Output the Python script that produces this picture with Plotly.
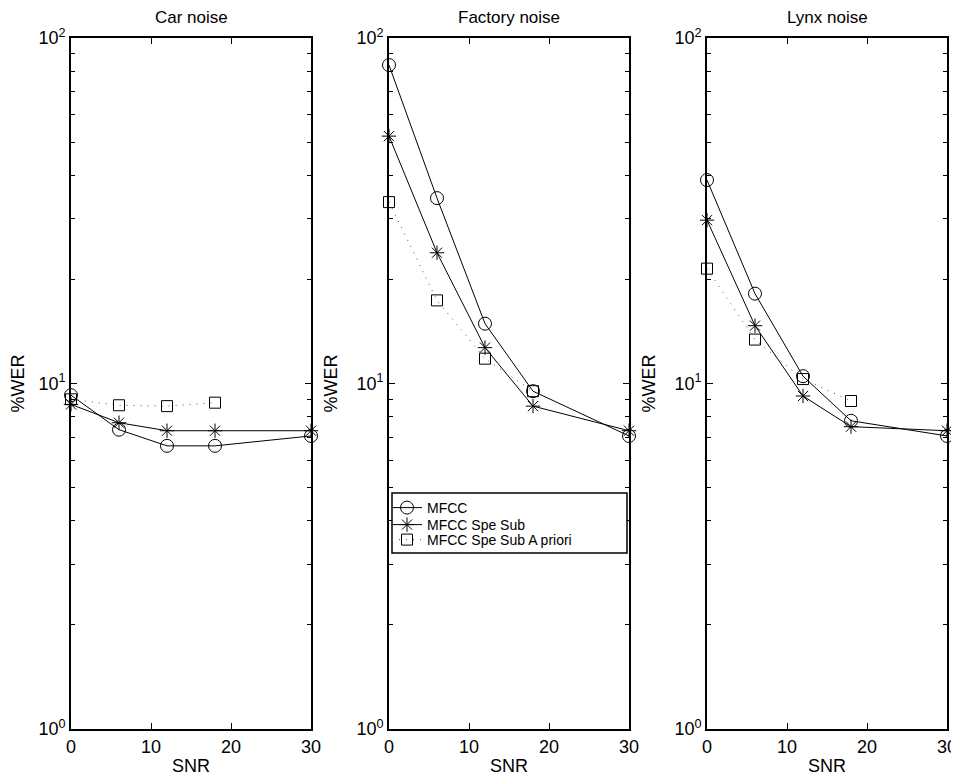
import plotly.graph_objects as go

snr = [0, 6, 12, 18, 30]
snr_apriori = [0, 6, 12, 18]
panels = ["Car noise", "Factory noise", "Lynx noise"]

car_mfcc = [9.25, 7.35, 6.6, 6.6, 7.05]
car_spesub = [8.7, 7.7, 7.3, 7.3, 7.3]
car_apriori = [9.0, 8.65, 8.6, 8.8]

fac_mfcc = [83.5, 34.4, 14.9, 9.5, 7.05]
fac_spesub = [52.0, 23.9, 12.7, 8.6, 7.3]
fac_apriori = [33.5, 17.4, 11.8, 9.5]

lynx_mfcc = [38.8, 18.2, 10.5, 7.8, 7.05]
lynx_spesub = [29.7, 14.7, 9.2, 7.5, 7.3]
lynx_apriori = [21.5, 13.4, 10.3, 8.9]

series_names = ["MFCC", "MFCC Spe Sub", "MFCC Spe Sub A priori"]
data = [
    (car_mfcc, car_spesub, car_apriori),
    (fac_mfcc, fac_spesub, fac_apriori),
    (lynx_mfcc, lynx_spesub, lynx_apriori),
]
xticks = [0, 10, 20, 30]
yticks = [1, 10, 100]
ytick_text = ["10<sup>0</sup>", "10<sup>1</sup>", "10<sup>2</sup>"]

# page body has an 8px margin: figure starts at (8, 8) in the window
OFF = 8
W, H = 959 - OFF, 783 - OFF
ML, MR, MT, MB = 71 - OFF, W - (947 - OFF), 38 - OFF, H - (729 - OFF)
PW = W - ML - MR
PH = H - MT - MB
panel_px = [(0, 240), (318, 558), (636, 876)]

font = "Liberation Sans, Arial, sans-serif"
fig = go.Figure()

minor_vals = [v * m for m in (1, 10) for v in range(2, 10)]
legend_ids = ["legend", "legend2", "legend3"]

for i, (mf, ss, ap) in enumerate(data):
    xa = "x" if i == 0 else f"x{i+1}"
    ya = "y" if i == 0 else f"y{i+1}"
    show = (i == 1)
    fig.add_trace(go.Scatter(x=snr, y=mf, xaxis=xa, yaxis=ya, name=series_names[0],
                             mode="lines+markers", showlegend=show, cliponaxis=False,
                             legend=legend_ids[0],
                             line=dict(color="black", width=1),
                             marker=dict(symbol="circle-open", size=13, color="black", line=dict(width=1))))
    fig.add_trace(go.Scatter(x=snr, y=ss, xaxis=xa, yaxis=ya, name=series_names[1],
                             mode="lines+markers", showlegend=show, cliponaxis=False,
                             legend=legend_ids[1],
                             line=dict(color="black", width=1),
                             marker=dict(symbol="asterisk-open", size=12, color="black", line=dict(width=1))))
    fig.add_trace(go.Scatter(x=snr_apriori, y=ap, xaxis=xa, yaxis=ya, name=series_names[2],
                             mode="lines+markers", showlegend=show, cliponaxis=False,
                             legend=legend_ids[2],
                             line=dict(color="#555555", width=1, dash="1px,6px"),
                             marker=dict(symbol="square-open", size=11, color="black", line=dict(width=1))))

    d0, d1 = panel_px[i]
    xkey = "xaxis" if i == 0 else f"xaxis{i+1}"
    ykey = "yaxis" if i == 0 else f"yaxis{i+1}"
    fig.update_layout(**{
        xkey: dict(domain=[d0 / PW, d1 / PW], range=[0, 30], tickvals=xticks, automargin=False,
                   ticks="inside", ticklen=6, tickwidth=1, tickcolor="black",
                   showline=True, linecolor="black", linewidth=1.8, mirror="ticks",
                   showgrid=False, zeroline=False, anchor=ya,
                   title=dict(text="SNR", font=dict(size=18, family=font, color="black"), standoff=4),
                   tickfont=dict(size=18, family=font, color="black")),
        ykey: dict(type="log", domain=[0, 1], range=[0, 2], tickvals=yticks, ticktext=ytick_text,
                   automargin=False,
                   ticks="inside", ticklen=6, tickwidth=1, tickcolor="black",
                   showline=True, linecolor="black", linewidth=1.8, mirror="ticks",
                   showgrid=False, zeroline=False, anchor=xa,
                   minor=dict(tickvals=minor_vals, ticks="inside", ticklen=4, tickcolor="black", showgrid=False),
                   title=dict(text="%WER", font=dict(size=18, family=font, color="black"), standoff=14),
                   tickfont=dict(size=18, family=font, color="black")),
    })
    fig.add_annotation(text=panels[i], x=(d0 + d1) / 2 / PW, y=1, xref="paper", yref="paper",
                       xanchor="center", yanchor="bottom", yshift=9, showarrow=False,
                       font=dict(size=17, family=font, color="black"))


def px_x(x):
    return (x - OFF - ML) / PW


def px_y(y):
    return 1 - (y - OFF - MT) / PH


# legend box (reference pixel coords)
fig.add_shape(type="rect", xref="paper", yref="paper", layer="above",
              x0=px_x(392), x1=px_x(627), y0=px_y(553), y1=px_y(493),
              line=dict(color="black", width=1.5), fillcolor="white")

leg_rows = [508, 525, 540]
leg_common = dict(xanchor="left", yanchor="middle", borderwidth=0, bgcolor="rgba(0,0,0,0)",
                  font=dict(size=14, family=font, color="black"), itemwidth=30)
fig.update_layout(
    width=W, height=H,
    margin=dict(l=ML, r=MR, t=MT, b=MB, autoexpand=False),
    paper_bgcolor="white", plot_bgcolor="white",
    font=dict(family=font, color="black"),
    legend=dict(x=px_x(387), y=px_y(leg_rows[0]), **leg_common),
    legend2=dict(x=px_x(387), y=px_y(leg_rows[1]), **leg_common),
    legend3=dict(x=px_x(387), y=px_y(leg_rows[2]), **leg_common),
)

fig.write_html("out.html")
